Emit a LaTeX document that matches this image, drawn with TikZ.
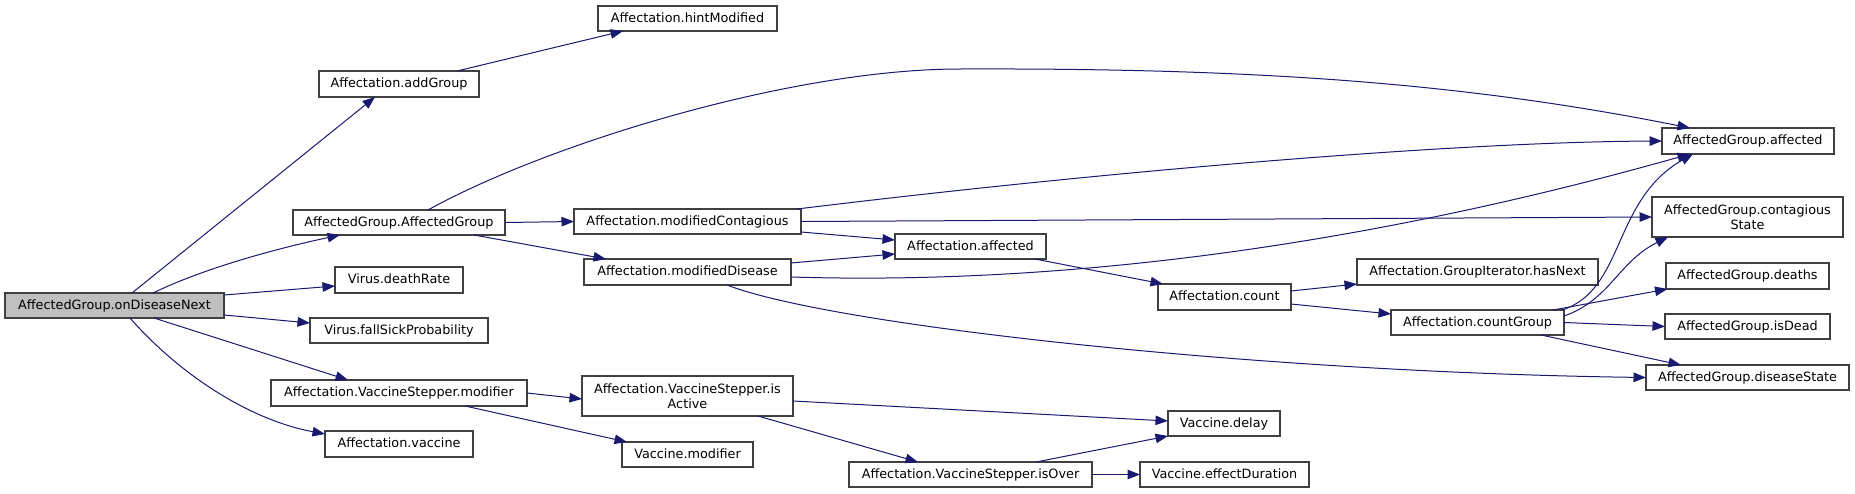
\documentclass[tikz,border=0pt]{standalone}
\usepackage{fontspec}
\setmainfont{DejaVu Sans}
\usetikzlibrary{arrows.meta,calc}
\definecolor{edgec}{HTML}{191970}
\definecolor{bordc}{HTML}{404040}
\definecolor{startc}{HTML}{BFBFBF}
\tikzset{
  fn/.style={draw=bordc, line width=1.2pt, fill=white, inner sep=0pt, outer sep=0pt,
    align=center, font=\fontsize{12.8}{15}\selectfont, text height=9.5pt, text depth=2.5pt},
  cl/.style={->, draw=edgec, line width=1pt, >={Triangle[length=12.5pt,width=9.5pt,fill=edgec]}},
}
\begin{document}
\begin{tikzpicture}[x=1pt,y=-1pt]
\useasboundingbox[fill=white] (0,0) rectangle (1855,493);
% column 0
\node[fn, fill=startc, minimum width=219pt, minimum height=25pt] (onD) at (114.5,305.5) {AffectedGroup.onDiseaseNext};
% column 1
\node[fn, minimum width=160pt, minimum height=26pt] (addG) at (399,84) {Affectation.addGroup};
\node[fn, minimum width=212pt, minimum height=25pt] (AGAG) at (399,222.5) {AffectedGroup.AffectedGroup};
\node[fn, minimum width=128pt, minimum height=26pt] (death) at (399,280) {Virus.deathRate};
\node[fn, minimum width=178pt, minimum height=25pt] (fall) at (399,330.5) {Virus.fallSickProbability};
\node[fn, minimum width=256pt, minimum height=26pt] (VSmod) at (399,393) {Affectation.VaccineStepper.modifier};
\node[fn, minimum width=148pt, minimum height=26pt] (vacc) at (399,444) {Affectation.vaccine};
% column 2
\node[fn, minimum width=179pt, minimum height=25pt] (hint) at (687.5,18.5) {Affectation.hintModified};
\node[fn, minimum width=227pt, minimum height=25pt] (modC) at (687.5,221.5) {Affectation.modifiedContagious};
\node[fn, minimum width=207pt, minimum height=26pt] (modD) at (687.5,272) {Affectation.modifiedDisease};
\node[fn, minimum width=211pt, minimum height=40pt, text height=, text depth=] (isAct) at (687.5,396) {Affectation.VaccineStepper.is\\Active};
\node[fn, minimum width=131pt, minimum height=25pt] (vmod) at (687.5,454.5) {Vaccine.modifier};
% column 3
\node[fn, minimum width=151pt, minimum height=25pt] (aff) at (970.5,246.5) {Affectation.affected};
\node[fn, minimum width=243pt, minimum height=25pt] (isOver) at (970.5,474.5) {Affectation.VaccineStepper.isOver};
% column 4
\node[fn, minimum width=133pt, minimum height=26pt] (count) at (1224.5,297) {Affectation.count};
\node[fn, minimum width=112pt, minimum height=25pt] (delay) at (1224,423.5) {Vaccine.delay};
\node[fn, minimum width=169pt, minimum height=25pt] (effD) at (1224.5,474.5) {Vaccine.effectDuration};
% column 5
\node[fn, minimum width=241pt, minimum height=26pt] (hasN) at (1477.5,272) {Affectation.GroupIterator.hasNext};
\node[fn, minimum width=173pt, minimum height=25pt] (cntG) at (1477.5,322.5) {Affectation.countGroup};
% column 6
\node[fn, minimum width=172pt, minimum height=26pt] (AGaff) at (1748,141) {AffectedGroup.affected};
\node[fn, minimum width=191pt, minimum height=40pt, text height=, text depth=] (AGcon) at (1747.5,217) {AffectedGroup.contagious\\State};
\node[fn, minimum width=163pt, minimum height=26pt] (AGdea) at (1747.5,276) {AffectedGroup.deaths};
\node[fn, minimum width=165pt, minimum height=25pt] (AGisD) at (1747.5,326.5) {AffectedGroup.isDead};
\node[fn, minimum width=203pt, minimum height=25pt] (AGdis) at (1747.5,377.5) {AffectedGroup.diseaseState};

% edges from onDiseaseNext
\draw[cl] ([xshift=17.5pt]onD.north) -- ([xshift=-24pt]addG.south);
\draw[cl] ([xshift=38.5pt]onD.north) .. controls (200,270) and (270,250) .. ([xshift=-59pt]AGAG.south);
\draw[cl] ([yshift=10.5pt]onD.east) -- ([yshift=-6pt]death.west);
\draw[cl] ([yshift=-9.5pt]onD.east) -- ([yshift=7.5pt]fall.west);
\draw[cl] ([xshift=39.5pt]onD.south) -- ([xshift=-51pt]VSmod.north);
\draw[cl] ([xshift=15.5pt]onD.south) .. controls (180,375) and (250,420) .. ([yshift=10pt]vacc.west);
% column 1 edges
\draw[cl] ([xshift=58pt]addG.north) -- ([xshift=-64.5pt]hint.south);
\draw[cl] ([xshift=29pt]AGAG.north) .. controls (545,145) and (790,69) .. (960,69)
          .. controls (1250,68) and (1460,82) .. ([xshift=-58pt]AGaff.north);
\draw[cl] (AGAG.east) -- (modC.west);
\draw[cl] ([xshift=75pt]AGAG.south) -- ([xshift=-81.5pt]modD.north);
\draw[cl] (VSmod.east) -- ([yshift=-3pt]isAct.west);
\draw[cl] ([xshift=66pt]VSmod.south) -- ([xshift=-60.5pt]vmod.north);
% column 2 edges
\draw[cl] ([xshift=109.5pt]modC.north) .. controls (1100,172) and (1450,142) .. (AGaff.west);
\draw[cl] (modC.east) -- (AGcon.west);
\draw[cl] ([yshift=-10.5pt]modC.east) -- ([yshift=6.5pt]aff.west);
\draw[cl] ([yshift=9pt]modD.east) -- ([yshift=-7.5pt]aff.west);
\draw[cl] ([yshift=-5pt]modD.east) .. controls (1050,285) and (1350,250) .. ([xshift=-58pt]AGaff.south);
\draw[cl] ([xshift=39.5pt]modD.south) .. controls (830,325) and (1250,372) .. (AGdis.west);
\draw[cl] ([yshift=-5pt]isAct.east) -- ([yshift=2.5pt]delay.west);
\draw[cl] ([xshift=70.5pt]isAct.south) -- ([xshift=-52.5pt]isOver.north);
% column 3 edges
\draw[cl] ([xshift=64.5pt]aff.south) -- ([xshift=-61.5pt]count.north);
\draw[cl] ([xshift=65.5pt]isOver.north) -- (delay.south west);
\draw[cl] (isOver.east) -- (effD.west);
% column 4 edges
\draw[cl] ([yshift=6pt]count.east) -- ([yshift=-12pt]hasN.west);
\draw[cl] ([yshift=-7pt]count.east) -- ([yshift=8.5pt]cntG.west);
% column 5 edges
\draw[cl] ([xshift=-2pt]cntG.north east) .. controls (1625,290) and (1612,200) .. ([xshift=-55pt]AGaff.south);
\draw[cl] ([yshift=6.5pt]cntG.east) .. controls (1610,300) and (1618,262) .. ([xshift=-79.5pt]AGcon.south);
\draw[cl] ([xshift=75.5pt]cntG.north) -- ([xshift=-80pt]AGdea.south);
\draw[cl] (cntG.east) -- (AGisD.west);
\draw[cl] ([xshift=63.5pt]cntG.south) -- ([xshift=-66.5pt]AGdis.north);
\end{tikzpicture}
\end{document}
